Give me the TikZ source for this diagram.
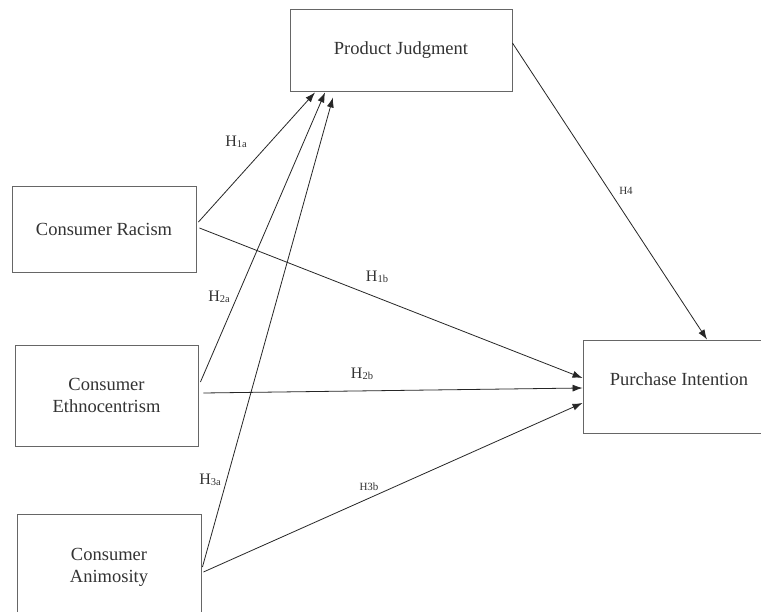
\documentclass[tikz,border=0pt]{standalone}
\usepackage{fontspec}
\setmainfont{Liberation Serif}
\usetikzlibrary{arrows.meta}
\tikzset{
  box/.style={draw=black!60, line width=0.9pt, rectangle, inner sep=0pt, text=black!80,
    font=\fontsize{18.5}{22}\selectfont, align=center},
  link/.style={draw=black!85, line width=0.8pt, -{Latex[length=10pt,width=7pt]}},
  hlab/.style={text=black!80, font=\fontsize{16}{18}\selectfont, inner sep=0pt},
  hsmall/.style={text=black!80, font=\fontsize{11}{12}\selectfont, inner sep=0pt}
}
\newcommand{\hsub}[1]{H{\fontsize{10.5}{11}\selectfont\raisebox{-1.5pt}{#1}}}
\begin{document}
\begin{tikzpicture}[x=1pt,y=-1pt]
\useasboundingbox (0,0) rectangle (761,612);
\clip (0,0) rectangle (761,612);
\fill[white] (0,0) rectangle (761,612);
% nodes
\node[box, minimum width=222pt, minimum height=82pt] (pj) at (401,50) {Product Judgment};
\node[box, minimum width=184pt, minimum height=86pt] (cr) at (104,229) {Consumer Racism};
\node[box, minimum width=183pt, minimum height=101pt] (ce) at (106.5,395.5) {Consumer\\Ethnocentrism};
\node[box, minimum width=184pt, minimum height=106pt] (ca) at (109,567) {Consumer\\Animosity};
\node[box, minimum width=192pt, minimum height=93pt, text depth=14pt] (pi) at (679,386.5) {Purchase Intention};
% connectors
\draw[link] ([xshift=2pt,yshift=7pt]cr.east) -- ([xshift=-86pt,yshift=-1pt]pj.south);
\draw[link] ([xshift=2pt,yshift=13.5pt]ce.east) -- ([xshift=-76pt,yshift=-1pt]pj.south);
\draw[link] ([xshift=1pt]ca.east) -- ([xshift=-68pt,yshift=-6pt]pj.south);
\draw[link] ([xshift=3pt,yshift=1pt]cr.east) -- ([yshift=8.5pt]pi.west);
\draw[link] ([xshift=5pt,yshift=2.5pt]ce.east) -- ([yshift=-1.5pt]pi.west);
\draw[link] ([xshift=2pt,yshift=-5pt]ca.east) -- ([yshift=-16.5pt]pi.west);
\draw[link] ([yshift=7pt]pj.east) -- ([xshift=28pt]pi.north);
% labels
\node[hlab] (l1a) at (236,142) {\hsub{1a}};
\node[hlab] (l1b) at (377,277) {\hsub{1b}};
\node[hlab] (l2a) at (219,297) {\hsub{2a}};
\node[hlab] (l2b) at (362,374) {\hsub{2b}};
\node[hlab] (l3a) at (210,480) {\hsub{3a}};
\node[hsmall] (l3b) at (369,487) {H3b};
\node[hsmall] (l4) at (626,191) {H4};
\end{tikzpicture}
\end{document}
